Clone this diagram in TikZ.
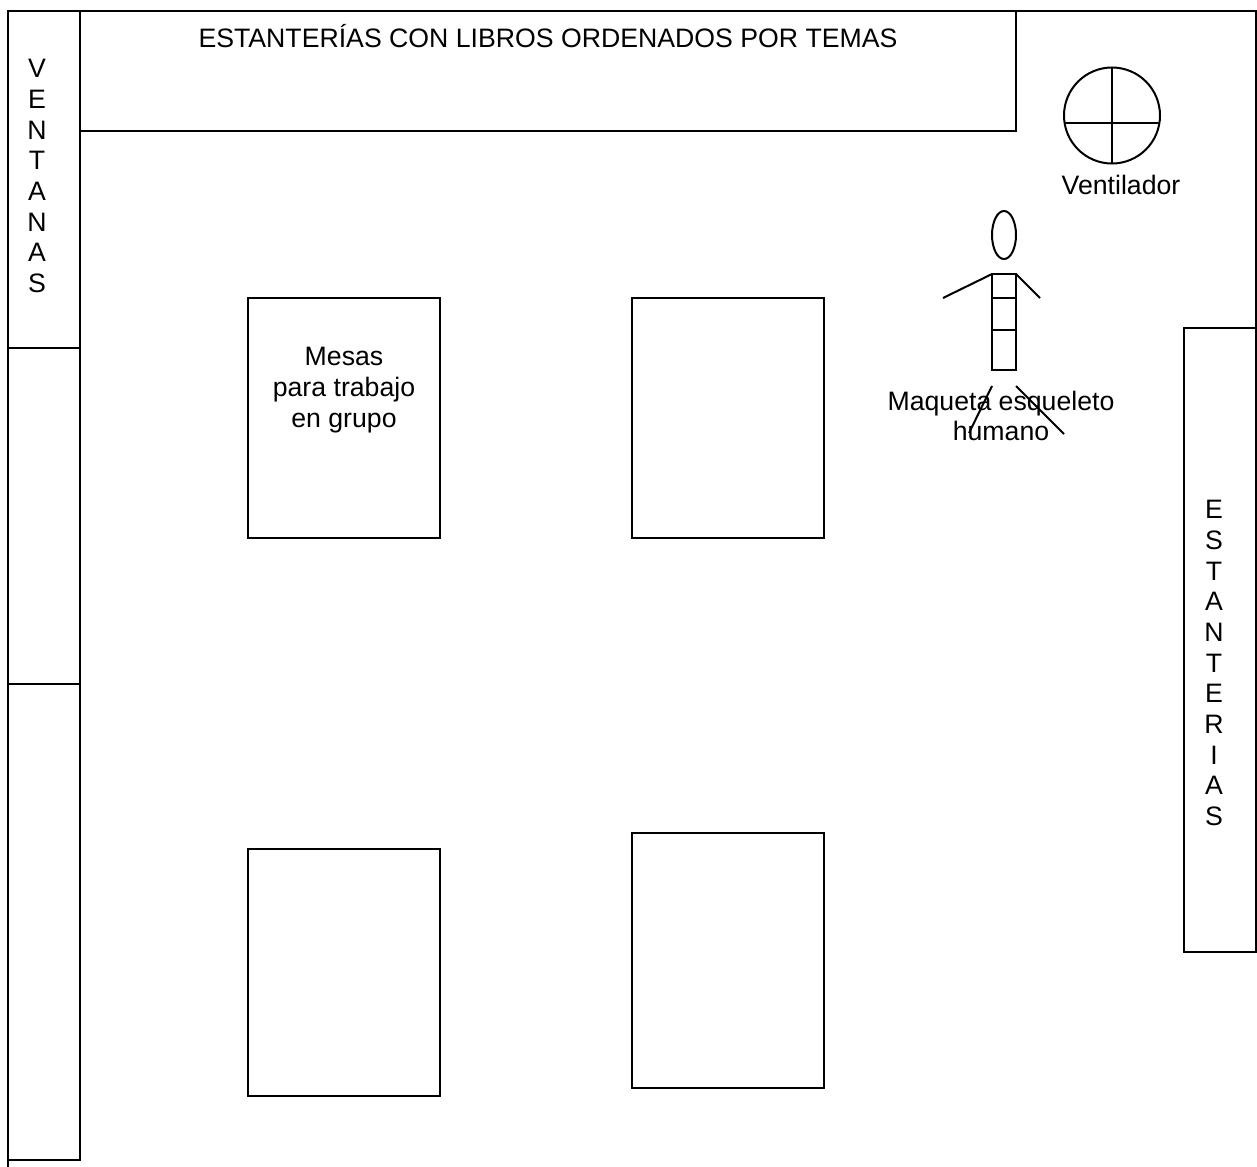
\documentclass[tikz,border=0pt]{standalone}
\usepackage{fontspec}
\setmainfont{Liberation Sans}
\tikzset{
  wall/.style={draw=black,line width=1.2pt},
  rotulo/.style={inner sep=0pt,align=center,font=\fontsize{16}{18.4}\selectfont}
}
\begin{document}
\begin{tikzpicture}[x=0.6pt,y=-0.6pt]
  \useasboundingbox (0,0) rectangle (1257,1167);
  % muros y ventanas
  \draw[wall] (7.5,1167) -- (7.5,11.5) -- (1256,11.5) -- (1256,328);
  \draw[wall] (7.5,11.5) rectangle (79.5,347.5);
  \draw[wall] (7.5,347.5) rectangle (79.5,684);
  \draw[wall] (7.5,684) rectangle (79.5,1160);
  % estanterias
  \draw[wall] (79.5,11.5) rectangle (1016,131);
  \draw[wall] (1184,328) rectangle (1256,952);
  % mesas
  \draw[wall] (247.5,298) rectangle (440,538);
  \draw[wall] (631.5,298) rectangle (824,538);
  \draw[wall] (247.5,849) rectangle (440,1096);
  \draw[wall] (631.5,833) rectangle (824,1088);
  % ventilador
  \draw[wall] (1112,115.5) circle (48);
  \draw[wall] (1064,123) -- (1160,123);
  \draw[wall] (1112,67.5) -- (1112,163.5);
  % esqueleto
  \draw[wall] (1004,235) ellipse (12 and 24);
  \draw[wall] (992,274) rectangle (1016,370);
  \draw[wall] (992,298) -- (1016,298);
  \draw[wall] (992,330) -- (1016,330);
  \draw[wall] (992,274) -- (943,298);
  \draw[wall] (1016,274) -- (1040,298);
  \draw[wall] (992,386) -- (969,433);
  \draw[wall] (1016,386) -- (1064,434);
  % textos
  \node[rotulo] (titulo) at (548,36) {ESTANTERÍAS CON LIBROS ORDENADOS POR TEMAS};
  \node[rotulo] (ventanas) at (37,176) {V\\E\\N\\T\\A\\N\\A\\S};
  \node[rotulo] (estanterias) at (1214,663) {E\\S\\T\\A\\N\\T\\E\\R\\I\\A\\S};
  \node[rotulo] (mesas) at (344,390) {Mesas\\para trabajo\\en grupo};
  \node[rotulo] (ventilador) at (1121,185) {Ventilador};
  \node[rotulo] (maqueta) at (1001,416) {Maqueta esqueleto\\humano};
\end{tikzpicture}
\end{document}
